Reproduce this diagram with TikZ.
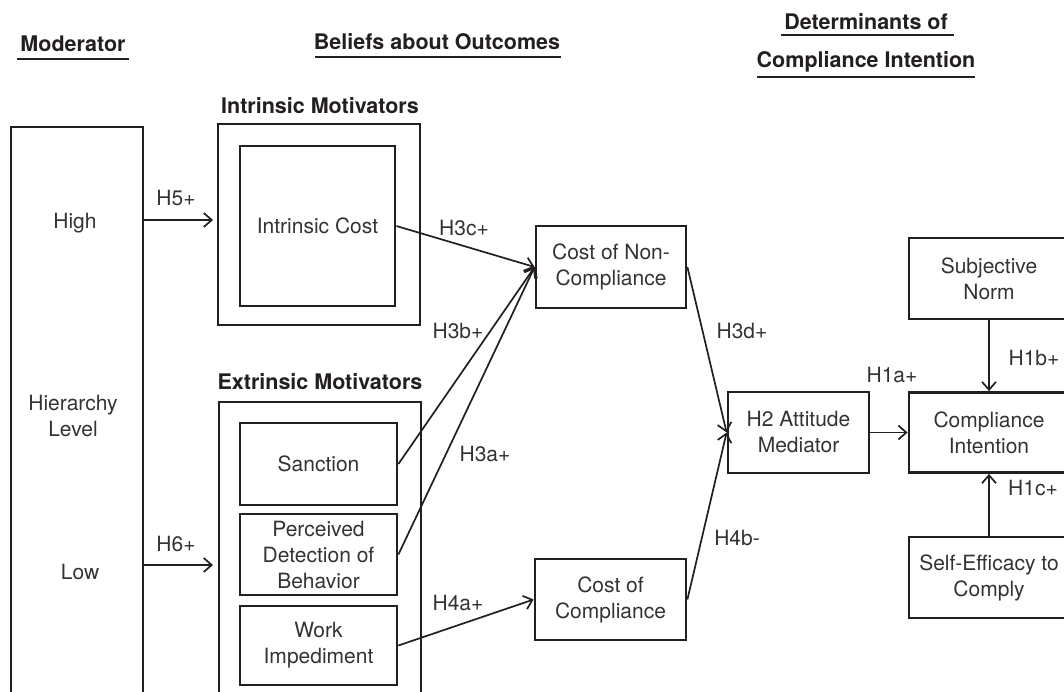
\documentclass[tikz,border=0pt]{standalone}
\usepackage{fontspec}
\setmainfont{TeX Gyre Heros}
\usetikzlibrary{arrows.meta}
\definecolor{ink}{HTML}{231F20}
\definecolor{txt}{HTML}{333333}
\tikzset{
  every node/.style={font=\fontsize{21}{26}\selectfont, text=txt, align=center, inner sep=0pt},
  mainbox/.style={draw=ink, line width=2.8pt, minimum width=#1},
  framebox/.style={draw=ink, line width=1.9pt},
  title/.style={font=\fontsize{21.5}{26}\selectfont\bfseries, text=ink},
  ulline/.style={draw=ink, line width=2.6pt},
  arr/.style={draw=ink, line width=1.7pt, -{Straight Barb[length=8pt,width=14pt,line width=1.7pt]}},
  lab/.style={}
}
\begin{document}
\begin{tikzpicture}[x=1pt,y=-1pt]
\useasboundingbox (0,0) rectangle (1064,692);
\clip (0,0) rectangle (1064,692);

% headers
\node[title] (tmod) at (73,44) {Moderator};
\node[title] (tbel) at (437,42) {Beliefs about Outcomes};
\node[title] (tdet) at (866,22) {Determinants of};
\node[title] (tci) at (866,62) {Compliance Intention};
\draw[ulline] (17,59) -- (129,59);
\draw[ulline] (315,57) -- (561,57);
\draw[ulline] (781,35) -- (954,35);
\draw[ulline] (757,77) -- (975,77);

% moderator
\node[draw=ink, line width=2.4pt, minimum width=132, minimum height=600, anchor=north west] (mod) at (10,126) {};
\node (high) at (75,223) {High};
\node (hier) at (73,416) {Hierarchy\\Level};
\node (low) at (80,572) {Low};

% intrinsic
\node[title] (tintr) at (320,106) {Intrinsic Motivators};
\node[framebox, minimum width=202, minimum height=201] (intrO) at (319,224.5) {};
\node[mainbox=155, minimum height=160] (ic) at (317.5,226) {Intrinsic Cost};

% extrinsic
\node[title] (textr) at (320,382) {Extrinsic Motivators};
\node[framebox, minimum width=202, minimum height=320, anchor=north west] (extrO) at (218,401) {};
\node[mainbox=157, minimum height=82] (sanc) at (318.5,464) {Sanction};
\node[mainbox=157, minimum height=81] (perc) at (318.5,554.5) {Perceived\\Detection of\\Behavior};
\node[mainbox=157, minimum height=79] (work) at (318.5,645.5) {Work\\Impediment};

% middle
\node[mainbox=150, minimum height=82] (cnc) at (611,267) {Cost of Non-\\Compliance};
\node[mainbox=151, minimum height=81] (cc) at (610.5,599.5) {Cost of\\Compliance};
\node[mainbox=141, minimum height=81] (h2) at (798.5,432.5) {H2 Attitude\\Mediator};

% right
\node[mainbox=160, minimum height=80] (ci) at (989,432.5) {Compliance\\Intention};
\node[mainbox=160, minimum height=81] (sn) at (989,278.5) {Subjective\\Norm};
\node[mainbox=160, minimum height=81] (se) at (989,577.5) {Self-Efficacy to\\Comply};

% connectors
\coordinate (y5) at (0,220);
\coordinate (y6) at (0,565);
\draw[arr] (mod.east |- y5) -- ([xshift=-4pt]intrO.west |- y5);
\draw[arr] (mod.east |- y6) -- ([xshift=-5pt]extrO.west |- y6);
\draw[arr] (ic.east) -- (cnc.west);
\draw[arr] (sanc.east) -- (cnc.west);
\draw[arr] (perc.east) -- (cnc.west);
\draw[arr] (work.east) -- (cc.west);
\draw[arr] (cnc.east) -- (h2.west);
\draw[arr] (cc.east) -- (h2.west);
\draw[arr] (h2.east) -- (ci.west);
\draw[arr] (sn.south) -- (ci.north);
\draw[arr] (se.north) -- (ci.south);

% labels
\node[lab] (l5) at (176,198) {H5+};
\node[lab] (l6) at (176,544) {H6+};
\node[lab] (l3c) at (464,228) {H3c+};
\node[lab] (l3b) at (458,331) {H3b+};
\node[lab] (l3a) at (485,454) {H3a+};
\node[lab] (l4a) at (458,603) {H4a+};
\node[lab] (l3d) at (742,331) {H3d+};
\node[lab] (l4b) at (737,538) {H4b-};
\node[lab] (l1a) at (892,375) {H1a+};
\node[lab] (l1b) at (1034,358) {H1b+};
\node[lab] (l1c) at (1033,488) {H1c+};
\end{tikzpicture}
\end{document}
